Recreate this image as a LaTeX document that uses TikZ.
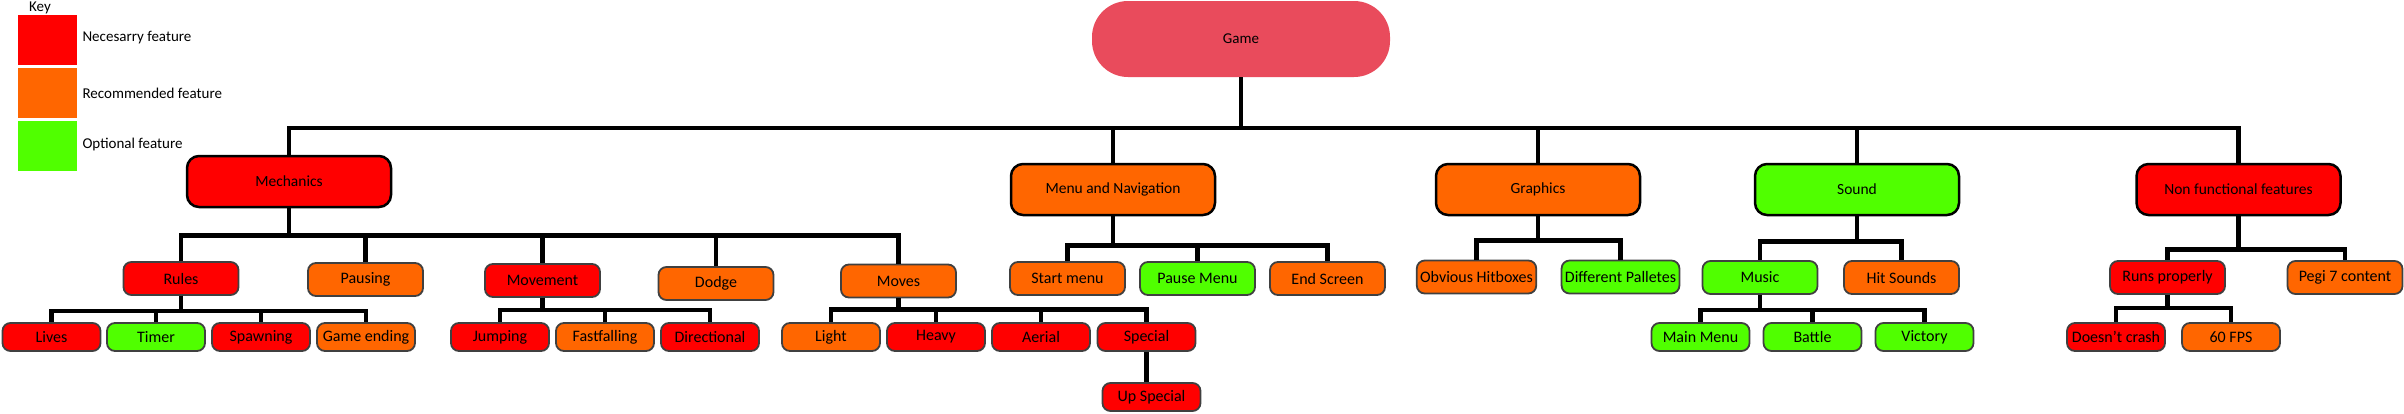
\documentclass[tikz,border=0pt]{standalone}
\usepackage{fontspec}
\setmainfont{Carlito}

\definecolor{necred}{HTML}{FF0000}
\definecolor{recorange}{HTML}{FF6600}
\definecolor{optgreen}{HTML}{50FF00}
\definecolor{gamepink}{HTML}{E94B5C}
\definecolor{boxedge}{HTML}{404040}

\tikzset{
    topbox/.style={draw=black, line width=2.5pt, rounded corners=12pt, minimum width=204pt, minimum height=51pt, font=\fontsize{15.5}{18}\selectfont},
    subbox/.style={draw=boxedge, line width=1.8pt, rounded corners=8pt, minimum width=115pt, minimum height=33pt, font=\fontsize{16}{18}\selectfont},
    leafbox/.style={subbox, minimum width=98pt, minimum height=28pt},
    keybox/.style={minimum width=59pt, minimum height=50pt, inner sep=0pt},
    nec/.style={fill=necred},
    rec/.style={fill=recorange},
    opt/.style={fill=optgreen},
    link/.style={line width=4.5pt},
}

\begin{document}
\begin{tikzpicture}[x=1pt, y=-1pt, font=\fontsize{15}{18}\selectfont]
    \useasboundingbox (0,0) rectangle (2404,413);

    % Key
    \node (key) at (40,8) {Key};
    \node[keybox, nec] (keynec) at (47.5,40) {};
    \node[keybox, rec] (keyrec) at (47.5,93) {};
    \node[keybox, opt] (keyopt) at (47.5,146) {};
    \node[anchor=west] (keynectxt) at (79,38) {Necesarry feature};
    \node[anchor=west] (keyrectxt) at (79,93) {Recommended feature};
    \node[anchor=west] (keyopttxt) at (79,144) {Optional feature};

    % Root
    \node[fill=gamepink, rounded corners=36pt, minimum width=298pt, minimum height=76pt] (game) at (1241,39) {Game};

    % Top level branches
    \node[topbox, nec] (mech) at (289,181.5) {Mechanics};
    \node[topbox, rec] (menunav) at (1113,189.5) {Menu and Navigation};
    \node[topbox, rec] (graphics) at (1538,189.5) {Graphics};
    \node[topbox, opt] (sound) at (1857,189.5) {Sound};
    \node[topbox, nec] (nonfunc) at (2238.5,189.5) {Non functional features};

    % Mechanics
    \node[subbox, nec] (rules) at (181,278.5) {Rules};
    \node[subbox, rec] (pausing) at (365.5,279.5) {Pausing};
    \node[subbox, nec] (movement) at (542.5,280.5) {Movement};
    \node[subbox, rec] (dodge) at (716,283.5) {Dodge};
    \node[subbox, rec] (moves) at (898.5,281) {Moves};

    \node[leafbox, nec] (lives) at (51.5,337) {Lives};
    \node[leafbox, opt] (timer) at (156,337) {Timer};
    \node[leafbox, nec] (spawning) at (261,337) {Spawning};
    \node[leafbox, rec] (gameend) at (366,337) {Game ending};

    \node[leafbox, nec] (jumping) at (500,337) {Jumping};
    \node[leafbox, rec] (fastfall) at (605,337) {Fastfalling};
    \node[leafbox, nec] (directional) at (710,337) {Directional};

    \node[leafbox, rec] (light) at (831,337) {Light};
    \node[leafbox, nec] (heavy) at (936,337) {Heavy};
    \node[leafbox, nec] (aerial) at (1041,337) {Aerial};
    \node[leafbox, nec] (special) at (1146.5,337) {Special};
    \node[leafbox, nec] (upspecial) at (1151.5,397) {Up Special};

    % Menu and Navigation
    \node[subbox, rec] (startmenu) at (1067.5,278.5) {Start menu};
    \node[subbox, opt] (pausemenu) at (1197.5,278.5) {Pause Menu};
    \node[subbox, rec] (endscreen) at (1327.5,278.5) {End Screen};

    % Graphics
    \node[subbox, rec] (hitboxes) at (1476.5,277) {Obvious Hitboxes};
    \node[subbox, opt] (palletes) at (1620.5,277) {Different Palletes};

    % Sound
    \node[subbox, opt] (music) at (1760,277.5) {Music};
    \node[subbox, rec] (hitsounds) at (1901.5,277.5) {Hit Sounds};
    \node[leafbox, opt] (mainmenu) at (1700.5,337) {Main Menu};
    \node[leafbox, opt] (battle) at (1812.5,337) {Battle};
    \node[leafbox, opt] (victory) at (1924.5,337) {Victory};

    % Non functional
    \node[subbox, nec] (runs) at (2167.5,277.5) {Runs properly};
    \node[subbox, rec] (pegi) at (2345,277.5) {Pegi 7 content};
    \node[leafbox, nec] (nocrash) at (2116,337) {Doesn't crash};
    \node[leafbox, rec] (fps) at (2231,337) {60 FPS};

    % Connectors (down to a bus, across, then down to each child)
    \foreach \c in {mech,menunav,graphics,sound,nonfunc}
        \draw[link] (game.south) -- ++(0,51) -| (\c.north);
    \foreach \c in {rules,pausing,movement,dodge,moves}
        \draw[link] (mech.south) -- ++(0,27) -| (\c.north);
    \foreach \c in {lives,timer,spawning,gameend}
        \draw[link] (rules.south) -- ++(0,15) -| (\c.north);
    \foreach \c in {jumping,fastfall,directional}
        \draw[link] (movement.south) -- ++(0,12) -| (\c.north);
    \foreach \c in {light,heavy,aerial,special}
        \draw[link] (moves.south) -- ++(0,11) -| (\c.north);
    \draw[link] (special.south) -- (special.south |- upspecial.north);
    \foreach \c in {startmenu,pausemenu,endscreen}
        \draw[link] (menunav.south) -- ++(0,29) -| (\c.north);
    \foreach \c in {hitboxes,palletes}
        \draw[link] (graphics.south) -- ++(0,24) -| (\c.north);
    \foreach \c in {music,hitsounds}
        \draw[link] (sound.south) -- ++(0,25) -| (\c.north);
    \foreach \c in {mainmenu,battle,victory}
        \draw[link] (music.south) -- ++(0,15) -| (\c.north);
    \foreach \c in {runs,pegi}
        \draw[link] (nonfunc.south) -- ++(0,33) -| (\c.north);
    \foreach \c in {nocrash,fps}
        \draw[link] (runs.south) -- ++(0,13) -| (\c.north);

\end{tikzpicture}
\end{document}
